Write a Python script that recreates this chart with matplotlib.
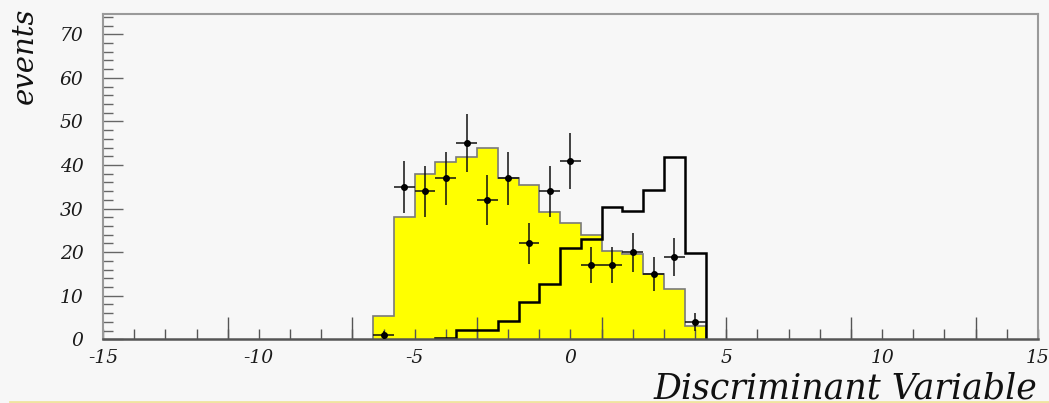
import matplotlib
matplotlib.use('Agg')
import matplotlib.pyplot as plt
import numpy as np
from matplotlib.ticker import FixedLocator, MultipleLocator, FuncFormatter, NullFormatter
from matplotlib.lines import Line2D

plt.rcParams['font.family'] = ['DejaVu Serif']
plt.rcParams['font.style'] = 'italic'

# 45 bins over the discriminant range
X_LO, X_HI, N_BINS = -15, 15, 45
edges = np.linspace(X_LO, X_HI, N_BINS + 1)
width = edges[1] - edges[0]
centers = 0.5 * (edges[:-1] + edges[1:])

# expected background (filled yellow), starting at bin 13
BKG_FIRST = 13
bkg = [5.4, 28.0, 37.9, 40.8, 41.9, 43.8, 37.0, 35.4,
       29.3, 26.6, 23.9, 20.3, 19.6, 15.0, 11.5, 3.0]

# signal shape (open black histogram), starting at bin 16
SIG_FIRST = 16
sig = [0.4, 2.1, 2.1, 4.3, 8.6, 12.7, 20.9, 23.0, 30.4, 29.4, 34.3, 41.8, 19.7]

# observed events, starting at bin 13
DATA_FIRST = 13
data = [1, 35, 34, 37, 45, 32, 37, 22, 34, 41, 17, 17, 20, 15, 19, 4]

x_label_ticks = [-15, -10, -5, 0, 5, 10, 15]
x_long_ticks = [-11, -7, -3, 1, 5, 9, 13]

BG = '#f7f7f7'

fig = plt.figure(figsize=(10.49, 4.03), dpi=100, facecolor=BG)
ax = fig.add_axes([0.0982, 0.158, 0.8913, 0.8077], facecolor=BG)

bkg_edges = edges[BKG_FIRST:BKG_FIRST + len(bkg) + 1]
ax.stairs(bkg, bkg_edges, fill=True, color='#ffff00', zorder=1)
ax.stairs(bkg, bkg_edges, color='#7a7a7a', linewidth=1.2, zorder=1.5)

sig_edges = edges[SIG_FIRST:SIG_FIRST + len(sig) + 1]
ax.stairs(sig, sig_edges, color='black', linewidth=1.8, zorder=2)

d = np.array(data, dtype=float)
xc = centers[DATA_FIRST:DATA_FIRST + len(data)]
ax.errorbar(xc, d, yerr=np.sqrt(d), xerr=width / 2, fmt='o', ms=4,
            color='black', ecolor='#111111', elinewidth=1.1, capsize=0, zorder=3)

ax.set_xlim(X_LO, X_HI)
ax.set_ylim(0, 74.7)

# x axis: long ticks every 4, short every 1, labels every 5
ax.xaxis.set_major_locator(FixedLocator(x_long_ticks))
ax.xaxis.set_major_formatter(NullFormatter())
ax.xaxis.set_minor_locator(MultipleLocator(1))
ax.xaxis.set_minor_formatter(FuncFormatter(
    lambda v, p: '%d' % round(v) if round(v) in x_label_ticks else ''))
ax.xaxis.remove_overlapping_locs = False

ax.yaxis.set_major_locator(MultipleLocator(10))
ax.yaxis.set_minor_locator(MultipleLocator(2))
ax.yaxis.set_major_formatter(FuncFormatter(lambda v, p: '%d' % round(v)))

ax.tick_params(axis='x', which='major', direction='in', length=15.5, width=1.0,
               color='#555555', top=False)
ax.tick_params(axis='x', which='minor', direction='in', length=7.2, width=1.0,
               color='#555555', top=False, labelsize=13.5, pad=7,
               labelcolor='#1a1a1a')
ax.tick_params(axis='y', which='major', direction='in', length=14.4, width=1.0,
               color='#666666', right=False, labelsize=13.5, pad=14,
               labelcolor='#1a1a1a')
ax.tick_params(axis='y', which='minor', direction='in', length=7.2, width=1.0,
               color='#666666', right=False)

for side in ['top', 'right', 'left']:
    ax.spines[side].set_color('#9a9a9a')
    ax.spines[side].set_linewidth(1.5)
ax.spines['bottom'].set_color('#555555')
ax.spines['bottom'].set_linewidth(1.8)

fig.text(0.024, 0.861, 'events', rotation=90, ha='center', va='center',
         fontsize=21, color='#111111')
fig.text(0.9886, 0.0124, 'Discriminant Variable', ha='right', va='baseline',
         fontsize=25, color='#111111')

# thin rule along the bottom edge
fig.add_artist(Line2D([10 / 1049, 1.0], [0.0037, 0.0037], transform=fig.transFigure,
                      color='#f0e4a0', linewidth=2))

fig.savefig('out.png', dpi=100, facecolor=BG)
